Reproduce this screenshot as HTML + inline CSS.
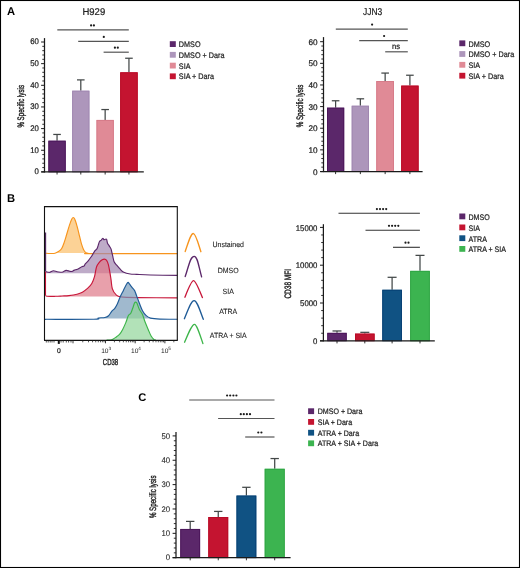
<!DOCTYPE html>
<html><head><meta charset="utf-8"><style>
html,body{margin:0;padding:0;background:#fff;}
svg{display:block;font-family:"Liberation Sans", sans-serif;filter:grayscale(0);text-rendering:geometricPrecision;}
</style></head><body>
<svg width="520" height="568" viewBox="0 0 520 568">
<rect x="0" y="0" width="520" height="568" fill="#fff"/>
<text transform="translate(7.00,14.80)" font-size="11.2" text-anchor="start" font-weight="bold" fill="#000">A</text>
<text transform="translate(7.00,202.30)" font-size="11.2" text-anchor="start" font-weight="bold" fill="#000">B</text>
<text transform="translate(138.20,400.50)" font-size="11.2" text-anchor="start" font-weight="bold" fill="#000">C</text>
<line x1="57.05" y1="140.72" x2="57.05" y2="134.45" stroke="#434848" stroke-width="1.25" />
<line x1="53.25" y1="134.45" x2="60.85" y2="134.45" stroke="#434848" stroke-width="1.25" />
<rect x="48.40" y="140.72" width="17.30" height="31.18" fill="#5b276a"/>
<rect x="48.85" y="141.17" width="16.40" height="30.73" fill="none" stroke="#4a1559" stroke-width="0.9"/>
<line x1="57.05" y1="171.90" x2="57.05" y2="174.50" stroke="#1a1a1a" stroke-width="0.9" />
<line x1="80.80" y1="90.71" x2="80.80" y2="79.89" stroke="#434848" stroke-width="1.25" />
<line x1="77.00" y1="79.89" x2="84.60" y2="79.89" stroke="#434848" stroke-width="1.25" />
<rect x="72.20" y="90.71" width="17.20" height="81.19" fill="#ad96bb"/>
<rect x="72.65" y="91.16" width="16.30" height="80.74" fill="none" stroke="#9f86b0" stroke-width="0.9"/>
<line x1="80.80" y1="171.90" x2="80.80" y2="174.50" stroke="#1a1a1a" stroke-width="0.9" />
<line x1="105.15" y1="119.94" x2="105.15" y2="109.55" stroke="#434848" stroke-width="1.25" />
<line x1="101.35" y1="109.55" x2="108.95" y2="109.55" stroke="#434848" stroke-width="1.25" />
<rect x="96.50" y="119.94" width="17.30" height="51.96" fill="#e08a96"/>
<rect x="96.95" y="120.39" width="16.40" height="51.51" fill="none" stroke="#d67a88" stroke-width="0.9"/>
<line x1="105.15" y1="171.90" x2="105.15" y2="174.50" stroke="#1a1a1a" stroke-width="0.9" />
<line x1="128.95" y1="72.31" x2="128.95" y2="58.24" stroke="#434848" stroke-width="1.25" />
<line x1="125.15" y1="58.24" x2="132.75" y2="58.24" stroke="#434848" stroke-width="1.25" />
<rect x="120.20" y="72.31" width="17.50" height="99.59" fill="#c41430"/>
<rect x="120.65" y="72.76" width="16.60" height="99.14" fill="none" stroke="#b80a26" stroke-width="0.9"/>
<line x1="128.95" y1="171.90" x2="128.95" y2="174.50" stroke="#1a1a1a" stroke-width="0.9" />
<line x1="44.50" y1="38.10" x2="44.50" y2="172.50" stroke="#1a1a1a" stroke-width="1.25" />
<line x1="41.30" y1="171.90" x2="143.80" y2="171.90" stroke="#1a1a1a" stroke-width="1.25" />
<line x1="41.10" y1="171.90" x2="44.50" y2="171.90" stroke="#1a1a1a" stroke-width="1.0" />
<text transform="translate(38.80,174.20) scale(0.95,1)" font-size="8.2" text-anchor="end" font-weight="normal" fill="#222" stroke="#222" stroke-width="0.22">0</text>
<line x1="41.10" y1="150.25" x2="44.50" y2="150.25" stroke="#1a1a1a" stroke-width="1.0" />
<text transform="translate(38.80,152.55) scale(0.95,1)" font-size="8.2" text-anchor="end" font-weight="normal" fill="#222" stroke="#222" stroke-width="0.22">10</text>
<line x1="41.10" y1="128.60" x2="44.50" y2="128.60" stroke="#1a1a1a" stroke-width="1.0" />
<text transform="translate(38.80,130.90) scale(0.95,1)" font-size="8.2" text-anchor="end" font-weight="normal" fill="#222" stroke="#222" stroke-width="0.22">20</text>
<line x1="41.10" y1="106.95" x2="44.50" y2="106.95" stroke="#1a1a1a" stroke-width="1.0" />
<text transform="translate(38.80,109.25) scale(0.95,1)" font-size="8.2" text-anchor="end" font-weight="normal" fill="#222" stroke="#222" stroke-width="0.22">30</text>
<line x1="41.10" y1="85.30" x2="44.50" y2="85.30" stroke="#1a1a1a" stroke-width="1.0" />
<text transform="translate(38.80,87.60) scale(0.95,1)" font-size="8.2" text-anchor="end" font-weight="normal" fill="#222" stroke="#222" stroke-width="0.22">40</text>
<line x1="41.10" y1="63.65" x2="44.50" y2="63.65" stroke="#1a1a1a" stroke-width="1.0" />
<text transform="translate(38.80,65.95) scale(0.95,1)" font-size="8.2" text-anchor="end" font-weight="normal" fill="#222" stroke="#222" stroke-width="0.22">50</text>
<line x1="41.10" y1="42.00" x2="44.50" y2="42.00" stroke="#1a1a1a" stroke-width="1.0" />
<text transform="translate(38.80,44.30) scale(0.95,1)" font-size="8.2" text-anchor="end" font-weight="normal" fill="#222" stroke="#222" stroke-width="0.22">60</text>
<line x1="42.30" y1="167.57" x2="44.50" y2="167.57" stroke="#1a1a1a" stroke-width="0.9" />
<line x1="42.30" y1="163.24" x2="44.50" y2="163.24" stroke="#1a1a1a" stroke-width="0.9" />
<line x1="42.30" y1="158.91" x2="44.50" y2="158.91" stroke="#1a1a1a" stroke-width="0.9" />
<line x1="42.30" y1="154.58" x2="44.50" y2="154.58" stroke="#1a1a1a" stroke-width="0.9" />
<line x1="42.30" y1="145.92" x2="44.50" y2="145.92" stroke="#1a1a1a" stroke-width="0.9" />
<line x1="42.30" y1="141.59" x2="44.50" y2="141.59" stroke="#1a1a1a" stroke-width="0.9" />
<line x1="42.30" y1="137.26" x2="44.50" y2="137.26" stroke="#1a1a1a" stroke-width="0.9" />
<line x1="42.30" y1="132.93" x2="44.50" y2="132.93" stroke="#1a1a1a" stroke-width="0.9" />
<line x1="42.30" y1="124.27" x2="44.50" y2="124.27" stroke="#1a1a1a" stroke-width="0.9" />
<line x1="42.30" y1="119.94" x2="44.50" y2="119.94" stroke="#1a1a1a" stroke-width="0.9" />
<line x1="42.30" y1="115.61" x2="44.50" y2="115.61" stroke="#1a1a1a" stroke-width="0.9" />
<line x1="42.30" y1="111.28" x2="44.50" y2="111.28" stroke="#1a1a1a" stroke-width="0.9" />
<line x1="42.30" y1="102.62" x2="44.50" y2="102.62" stroke="#1a1a1a" stroke-width="0.9" />
<line x1="42.30" y1="98.29" x2="44.50" y2="98.29" stroke="#1a1a1a" stroke-width="0.9" />
<line x1="42.30" y1="93.96" x2="44.50" y2="93.96" stroke="#1a1a1a" stroke-width="0.9" />
<line x1="42.30" y1="89.63" x2="44.50" y2="89.63" stroke="#1a1a1a" stroke-width="0.9" />
<line x1="42.30" y1="80.97" x2="44.50" y2="80.97" stroke="#1a1a1a" stroke-width="0.9" />
<line x1="42.30" y1="76.64" x2="44.50" y2="76.64" stroke="#1a1a1a" stroke-width="0.9" />
<line x1="42.30" y1="72.31" x2="44.50" y2="72.31" stroke="#1a1a1a" stroke-width="0.9" />
<line x1="42.30" y1="67.98" x2="44.50" y2="67.98" stroke="#1a1a1a" stroke-width="0.9" />
<line x1="42.30" y1="59.32" x2="44.50" y2="59.32" stroke="#1a1a1a" stroke-width="0.9" />
<line x1="42.30" y1="54.99" x2="44.50" y2="54.99" stroke="#1a1a1a" stroke-width="0.9" />
<line x1="42.30" y1="50.66" x2="44.50" y2="50.66" stroke="#1a1a1a" stroke-width="0.9" />
<line x1="42.30" y1="46.33" x2="44.50" y2="46.33" stroke="#1a1a1a" stroke-width="0.9" />
<line x1="57.30" y1="29.80" x2="128.80" y2="29.80" stroke="#555" stroke-width="1.2" />
<circle cx="91.10" cy="25.40" r="1.1" fill="#1a1a1a"/>
<circle cx="93.90" cy="25.40" r="1.1" fill="#1a1a1a"/>
<line x1="78.20" y1="41.30" x2="128.80" y2="41.30" stroke="#555" stroke-width="1.2" />
<circle cx="103.80" cy="36.90" r="1.1" fill="#1a1a1a"/>
<line x1="103.60" y1="52.20" x2="128.80" y2="52.20" stroke="#555" stroke-width="1.2" />
<circle cx="114.90" cy="47.70" r="1.1" fill="#1a1a1a"/>
<circle cx="117.80" cy="47.70" r="1.1" fill="#1a1a1a"/>
<text transform="translate(93.80,15.00) scale(0.97,1)" font-size="9.8" text-anchor="middle" font-weight="normal" fill="#222" stroke="#222" stroke-width="0.22">H929</text>
<text transform="translate(23.90,106.30) rotate(-90) scale(0.66,1)" font-size="9.4" text-anchor="middle" font-weight="normal" fill="#222" stroke="#222" stroke-width="0.4">% Specific lysis</text>
<rect x="169.80" y="41.20" width="6.00" height="5.80" fill="#5b276a"/>
<text transform="translate(178.80,47.05) scale(0.895,1)" font-size="8.1" text-anchor="start" font-weight="normal" fill="#222" stroke="#222" stroke-width="0.22">DMSO</text>
<rect x="169.80" y="51.90" width="6.00" height="5.80" fill="#ad96bb"/>
<text transform="translate(178.80,57.75) scale(0.895,1)" font-size="8.1" text-anchor="start" font-weight="normal" fill="#222" stroke="#222" stroke-width="0.22">DMSO + Dara</text>
<rect x="169.80" y="62.70" width="6.00" height="5.80" fill="#e08a96"/>
<text transform="translate(178.80,68.55) scale(0.895,1)" font-size="8.1" text-anchor="start" font-weight="normal" fill="#222" stroke="#222" stroke-width="0.22">SIA</text>
<rect x="169.80" y="73.40" width="6.00" height="5.80" fill="#c41430"/>
<text transform="translate(178.80,79.25) scale(0.895,1)" font-size="8.1" text-anchor="start" font-weight="normal" fill="#222" stroke="#222" stroke-width="0.22">SIA + Dara</text>
<line x1="335.60" y1="107.68" x2="335.60" y2="100.76" stroke="#434848" stroke-width="1.25" />
<line x1="331.80" y1="100.76" x2="339.40" y2="100.76" stroke="#434848" stroke-width="1.25" />
<rect x="327.00" y="107.68" width="17.20" height="63.82" fill="#5b276a"/>
<rect x="327.45" y="108.13" width="16.30" height="63.37" fill="none" stroke="#4a1559" stroke-width="0.9"/>
<line x1="335.60" y1="171.50" x2="335.60" y2="174.10" stroke="#1a1a1a" stroke-width="0.9" />
<line x1="360.35" y1="105.73" x2="360.35" y2="98.81" stroke="#434848" stroke-width="1.25" />
<line x1="356.55" y1="98.81" x2="364.15" y2="98.81" stroke="#434848" stroke-width="1.25" />
<rect x="351.70" y="105.73" width="17.30" height="65.77" fill="#ad96bb"/>
<rect x="352.15" y="106.18" width="16.40" height="65.32" fill="none" stroke="#9f86b0" stroke-width="0.9"/>
<line x1="360.35" y1="171.50" x2="360.35" y2="174.10" stroke="#1a1a1a" stroke-width="0.9" />
<line x1="385.15" y1="81.07" x2="385.15" y2="73.07" stroke="#434848" stroke-width="1.25" />
<line x1="381.35" y1="73.07" x2="388.95" y2="73.07" stroke="#434848" stroke-width="1.25" />
<rect x="376.30" y="81.07" width="17.70" height="90.43" fill="#e08a96"/>
<rect x="376.75" y="81.52" width="16.80" height="89.98" fill="none" stroke="#d67a88" stroke-width="0.9"/>
<line x1="385.15" y1="171.50" x2="385.15" y2="174.10" stroke="#1a1a1a" stroke-width="0.9" />
<line x1="409.90" y1="85.62" x2="409.90" y2="75.23" stroke="#434848" stroke-width="1.25" />
<line x1="406.10" y1="75.23" x2="413.70" y2="75.23" stroke="#434848" stroke-width="1.25" />
<rect x="401.20" y="85.62" width="17.40" height="85.88" fill="#c41430"/>
<rect x="401.65" y="86.07" width="16.50" height="85.43" fill="none" stroke="#b80a26" stroke-width="0.9"/>
<line x1="409.90" y1="171.50" x2="409.90" y2="174.10" stroke="#1a1a1a" stroke-width="0.9" />
<line x1="323.50" y1="37.10" x2="323.50" y2="172.10" stroke="#1a1a1a" stroke-width="1.25" />
<line x1="320.30" y1="171.50" x2="422.60" y2="171.50" stroke="#1a1a1a" stroke-width="1.25" />
<line x1="320.10" y1="171.50" x2="323.50" y2="171.50" stroke="#1a1a1a" stroke-width="1.0" />
<text transform="translate(317.60,174.50)" font-size="8.2" text-anchor="end" font-weight="normal" fill="#222" stroke="#222" stroke-width="0.22">0</text>
<line x1="320.10" y1="149.87" x2="323.50" y2="149.87" stroke="#1a1a1a" stroke-width="1.0" />
<text transform="translate(317.60,152.87)" font-size="8.2" text-anchor="end" font-weight="normal" fill="#222" stroke="#222" stroke-width="0.22">10</text>
<line x1="320.10" y1="128.23" x2="323.50" y2="128.23" stroke="#1a1a1a" stroke-width="1.0" />
<text transform="translate(317.60,131.23)" font-size="8.2" text-anchor="end" font-weight="normal" fill="#222" stroke="#222" stroke-width="0.22">20</text>
<line x1="320.10" y1="106.60" x2="323.50" y2="106.60" stroke="#1a1a1a" stroke-width="1.0" />
<text transform="translate(317.60,109.60)" font-size="8.2" text-anchor="end" font-weight="normal" fill="#222" stroke="#222" stroke-width="0.22">30</text>
<line x1="320.10" y1="84.97" x2="323.50" y2="84.97" stroke="#1a1a1a" stroke-width="1.0" />
<text transform="translate(317.60,87.97)" font-size="8.2" text-anchor="end" font-weight="normal" fill="#222" stroke="#222" stroke-width="0.22">40</text>
<line x1="320.10" y1="63.33" x2="323.50" y2="63.33" stroke="#1a1a1a" stroke-width="1.0" />
<text transform="translate(317.60,66.33)" font-size="8.2" text-anchor="end" font-weight="normal" fill="#222" stroke="#222" stroke-width="0.22">50</text>
<line x1="320.10" y1="41.70" x2="323.50" y2="41.70" stroke="#1a1a1a" stroke-width="1.0" />
<text transform="translate(317.60,44.70)" font-size="8.2" text-anchor="end" font-weight="normal" fill="#222" stroke="#222" stroke-width="0.22">60</text>
<line x1="321.30" y1="167.17" x2="323.50" y2="167.17" stroke="#1a1a1a" stroke-width="0.9" />
<line x1="321.30" y1="162.85" x2="323.50" y2="162.85" stroke="#1a1a1a" stroke-width="0.9" />
<line x1="321.30" y1="158.52" x2="323.50" y2="158.52" stroke="#1a1a1a" stroke-width="0.9" />
<line x1="321.30" y1="154.19" x2="323.50" y2="154.19" stroke="#1a1a1a" stroke-width="0.9" />
<line x1="321.30" y1="145.54" x2="323.50" y2="145.54" stroke="#1a1a1a" stroke-width="0.9" />
<line x1="321.30" y1="141.21" x2="323.50" y2="141.21" stroke="#1a1a1a" stroke-width="0.9" />
<line x1="321.30" y1="136.89" x2="323.50" y2="136.89" stroke="#1a1a1a" stroke-width="0.9" />
<line x1="321.30" y1="132.56" x2="323.50" y2="132.56" stroke="#1a1a1a" stroke-width="0.9" />
<line x1="321.30" y1="123.91" x2="323.50" y2="123.91" stroke="#1a1a1a" stroke-width="0.9" />
<line x1="321.30" y1="119.58" x2="323.50" y2="119.58" stroke="#1a1a1a" stroke-width="0.9" />
<line x1="321.30" y1="115.25" x2="323.50" y2="115.25" stroke="#1a1a1a" stroke-width="0.9" />
<line x1="321.30" y1="110.93" x2="323.50" y2="110.93" stroke="#1a1a1a" stroke-width="0.9" />
<line x1="321.30" y1="102.27" x2="323.50" y2="102.27" stroke="#1a1a1a" stroke-width="0.9" />
<line x1="321.30" y1="97.95" x2="323.50" y2="97.95" stroke="#1a1a1a" stroke-width="0.9" />
<line x1="321.30" y1="93.62" x2="323.50" y2="93.62" stroke="#1a1a1a" stroke-width="0.9" />
<line x1="321.30" y1="89.29" x2="323.50" y2="89.29" stroke="#1a1a1a" stroke-width="0.9" />
<line x1="321.30" y1="80.64" x2="323.50" y2="80.64" stroke="#1a1a1a" stroke-width="0.9" />
<line x1="321.30" y1="76.31" x2="323.50" y2="76.31" stroke="#1a1a1a" stroke-width="0.9" />
<line x1="321.30" y1="71.99" x2="323.50" y2="71.99" stroke="#1a1a1a" stroke-width="0.9" />
<line x1="321.30" y1="67.66" x2="323.50" y2="67.66" stroke="#1a1a1a" stroke-width="0.9" />
<line x1="321.30" y1="59.01" x2="323.50" y2="59.01" stroke="#1a1a1a" stroke-width="0.9" />
<line x1="321.30" y1="54.68" x2="323.50" y2="54.68" stroke="#1a1a1a" stroke-width="0.9" />
<line x1="321.30" y1="50.35" x2="323.50" y2="50.35" stroke="#1a1a1a" stroke-width="0.9" />
<line x1="321.30" y1="46.03" x2="323.50" y2="46.03" stroke="#1a1a1a" stroke-width="0.9" />
<line x1="335.80" y1="29.20" x2="407.80" y2="29.20" stroke="#555" stroke-width="1.2" />
<circle cx="372.10" cy="24.60" r="1.1" fill="#1a1a1a"/>
<line x1="359.20" y1="40.60" x2="407.80" y2="40.60" stroke="#555" stroke-width="1.2" />
<circle cx="384.10" cy="36.00" r="1.1" fill="#1a1a1a"/>
<line x1="385.20" y1="51.80" x2="407.80" y2="51.80" stroke="#555" stroke-width="1.2" />
<text transform="translate(396.10,49.40) scale(0.95,1)" font-size="8.0" text-anchor="middle" font-weight="normal" fill="#222" stroke="#222" stroke-width="0.22">ns</text>
<text transform="translate(372.60,15.00) scale(0.86,1)" font-size="9.8" text-anchor="middle" font-weight="normal" fill="#222" stroke="#222" stroke-width="0.22">JJN3</text>
<text transform="translate(302.90,106.00) rotate(-90) scale(0.66,1)" font-size="9.4" text-anchor="middle" font-weight="normal" fill="#222" stroke="#222" stroke-width="0.4">% Specific lysis</text>
<rect x="459.30" y="40.40" width="6.00" height="5.80" fill="#5b276a"/>
<text transform="translate(468.50,46.75) scale(0.895,1)" font-size="8.1" text-anchor="start" font-weight="normal" fill="#222" stroke="#222" stroke-width="0.22">DMSO</text>
<rect x="459.30" y="51.10" width="6.00" height="5.80" fill="#ad96bb"/>
<text transform="translate(468.50,57.45) scale(0.895,1)" font-size="8.1" text-anchor="start" font-weight="normal" fill="#222" stroke="#222" stroke-width="0.22">DMSO + Dara</text>
<rect x="459.30" y="61.90" width="6.00" height="5.80" fill="#e08a96"/>
<text transform="translate(468.50,68.25) scale(0.895,1)" font-size="8.1" text-anchor="start" font-weight="normal" fill="#222" stroke="#222" stroke-width="0.22">SIA</text>
<rect x="459.30" y="72.80" width="6.00" height="5.80" fill="#c41430"/>
<text transform="translate(468.50,79.15) scale(0.895,1)" font-size="8.1" text-anchor="start" font-weight="normal" fill="#222" stroke="#222" stroke-width="0.22">SIA + Dara</text>
<line x1="337.00" y1="332.86" x2="337.00" y2="330.97" stroke="#434848" stroke-width="1.25" />
<line x1="332.50" y1="330.97" x2="341.50" y2="330.97" stroke="#434848" stroke-width="1.25" />
<rect x="327.30" y="332.86" width="19.40" height="7.94" fill="#5b276a"/>
<rect x="327.75" y="333.31" width="18.50" height="7.49" fill="none" stroke="#4a1559" stroke-width="0.9"/>
<line x1="337.00" y1="340.80" x2="337.00" y2="343.40" stroke="#1a1a1a" stroke-width="0.9" />
<line x1="364.80" y1="333.62" x2="364.80" y2="332.33" stroke="#434848" stroke-width="1.25" />
<line x1="360.30" y1="332.33" x2="369.30" y2="332.33" stroke="#434848" stroke-width="1.25" />
<rect x="355.00" y="333.62" width="19.60" height="7.18" fill="#c41430"/>
<rect x="355.45" y="334.07" width="18.70" height="6.73" fill="none" stroke="#b80a26" stroke-width="0.9"/>
<line x1="364.80" y1="340.80" x2="364.80" y2="343.40" stroke="#1a1a1a" stroke-width="0.9" />
<line x1="392.10" y1="289.77" x2="392.10" y2="277.30" stroke="#434848" stroke-width="1.25" />
<line x1="387.60" y1="277.30" x2="396.60" y2="277.30" stroke="#434848" stroke-width="1.25" />
<rect x="382.30" y="289.77" width="19.60" height="51.03" fill="#105283"/>
<rect x="382.75" y="290.22" width="18.70" height="50.58" fill="none" stroke="#053f73" stroke-width="0.9"/>
<line x1="392.10" y1="340.80" x2="392.10" y2="343.40" stroke="#1a1a1a" stroke-width="0.9" />
<line x1="420.00" y1="270.87" x2="420.00" y2="255.37" stroke="#434848" stroke-width="1.25" />
<line x1="415.50" y1="255.37" x2="424.50" y2="255.37" stroke="#434848" stroke-width="1.25" />
<rect x="410.20" y="270.87" width="19.60" height="69.93" fill="#3cb450"/>
<rect x="410.65" y="271.32" width="18.70" height="69.48" fill="none" stroke="#2ea442" stroke-width="0.9"/>
<line x1="420.00" y1="340.80" x2="420.00" y2="343.40" stroke="#1a1a1a" stroke-width="0.9" />
<line x1="323.40" y1="224.20" x2="323.40" y2="341.40" stroke="#1a1a1a" stroke-width="1.25" />
<line x1="320.00" y1="340.80" x2="434.80" y2="340.80" stroke="#1a1a1a" stroke-width="1.25" />
<line x1="320.00" y1="340.80" x2="323.40" y2="340.80" stroke="#1a1a1a" stroke-width="1.0" />
<text transform="translate(317.40,343.90) scale(0.95,1)" font-size="8.2" text-anchor="end" font-weight="normal" fill="#222" stroke="#222" stroke-width="0.22">0</text>
<line x1="320.00" y1="303.00" x2="323.40" y2="303.00" stroke="#1a1a1a" stroke-width="1.0" />
<text transform="translate(317.40,306.10) scale(0.95,1)" font-size="8.2" text-anchor="end" font-weight="normal" fill="#222" stroke="#222" stroke-width="0.22">5000</text>
<line x1="320.00" y1="265.20" x2="323.40" y2="265.20" stroke="#1a1a1a" stroke-width="1.0" />
<text transform="translate(317.40,268.30) scale(0.95,1)" font-size="8.2" text-anchor="end" font-weight="normal" fill="#222" stroke="#222" stroke-width="0.22">10000</text>
<line x1="320.00" y1="227.40" x2="323.40" y2="227.40" stroke="#1a1a1a" stroke-width="1.0" />
<text transform="translate(317.40,230.50) scale(0.95,1)" font-size="8.2" text-anchor="end" font-weight="normal" fill="#222" stroke="#222" stroke-width="0.22">15000</text>
<line x1="321.20" y1="333.24" x2="323.40" y2="333.24" stroke="#1a1a1a" stroke-width="0.9" />
<line x1="321.20" y1="325.68" x2="323.40" y2="325.68" stroke="#1a1a1a" stroke-width="0.9" />
<line x1="321.20" y1="318.12" x2="323.40" y2="318.12" stroke="#1a1a1a" stroke-width="0.9" />
<line x1="321.20" y1="310.56" x2="323.40" y2="310.56" stroke="#1a1a1a" stroke-width="0.9" />
<line x1="321.20" y1="295.44" x2="323.40" y2="295.44" stroke="#1a1a1a" stroke-width="0.9" />
<line x1="321.20" y1="287.88" x2="323.40" y2="287.88" stroke="#1a1a1a" stroke-width="0.9" />
<line x1="321.20" y1="280.32" x2="323.40" y2="280.32" stroke="#1a1a1a" stroke-width="0.9" />
<line x1="321.20" y1="272.76" x2="323.40" y2="272.76" stroke="#1a1a1a" stroke-width="0.9" />
<line x1="321.20" y1="257.64" x2="323.40" y2="257.64" stroke="#1a1a1a" stroke-width="0.9" />
<line x1="321.20" y1="250.08" x2="323.40" y2="250.08" stroke="#1a1a1a" stroke-width="0.9" />
<line x1="321.20" y1="242.52" x2="323.40" y2="242.52" stroke="#1a1a1a" stroke-width="0.9" />
<line x1="321.20" y1="234.96" x2="323.40" y2="234.96" stroke="#1a1a1a" stroke-width="0.9" />
<line x1="338.50" y1="213.30" x2="419.90" y2="213.30" stroke="#333" stroke-width="1.1" />
<circle cx="376.90" cy="209.10" r="1.1" fill="#1a1a1a"/>
<circle cx="380.00" cy="209.10" r="1.1" fill="#1a1a1a"/>
<circle cx="383.10" cy="209.10" r="1.1" fill="#1a1a1a"/>
<circle cx="386.20" cy="209.10" r="1.1" fill="#1a1a1a"/>
<line x1="365.50" y1="230.20" x2="419.90" y2="230.20" stroke="#333" stroke-width="1.1" />
<circle cx="389.00" cy="225.80" r="1.1" fill="#1a1a1a"/>
<circle cx="392.10" cy="225.80" r="1.1" fill="#1a1a1a"/>
<circle cx="395.20" cy="225.80" r="1.1" fill="#1a1a1a"/>
<circle cx="398.30" cy="225.80" r="1.1" fill="#1a1a1a"/>
<line x1="393.00" y1="247.30" x2="419.90" y2="247.30" stroke="#333" stroke-width="1.1" />
<circle cx="405.50" cy="242.70" r="1.1" fill="#1a1a1a"/>
<circle cx="408.50" cy="242.70" r="1.1" fill="#1a1a1a"/>
<text transform="translate(290.50,283.80) rotate(-90) scale(0.7,1)" font-size="9.3" text-anchor="middle" font-weight="normal" fill="#222" stroke="#222" stroke-width="0.4">CD38 MFI</text>
<rect x="459.30" y="213.50" width="6.00" height="5.80" fill="#5b276a"/>
<text transform="translate(468.50,219.95) scale(0.875,1)" font-size="8.1" text-anchor="start" font-weight="normal" fill="#222" stroke="#222" stroke-width="0.22">DMSO</text>
<rect x="459.30" y="224.50" width="6.00" height="5.80" fill="#c41430"/>
<text transform="translate(468.50,230.95) scale(0.875,1)" font-size="8.1" text-anchor="start" font-weight="normal" fill="#222" stroke="#222" stroke-width="0.22">SIA</text>
<rect x="459.30" y="235.30" width="6.00" height="5.80" fill="#105283"/>
<text transform="translate(468.50,241.75) scale(0.875,1)" font-size="8.1" text-anchor="start" font-weight="normal" fill="#222" stroke="#222" stroke-width="0.22">ATRA</text>
<rect x="459.30" y="246.00" width="6.00" height="5.80" fill="#3cb450"/>
<text transform="translate(468.50,252.45) scale(0.875,1)" font-size="8.1" text-anchor="start" font-weight="normal" fill="#222" stroke="#222" stroke-width="0.22">ATRA + SIA</text>
<line x1="190.20" y1="528.96" x2="190.20" y2="521.40" stroke="#434848" stroke-width="1.25" />
<line x1="186.00" y1="521.40" x2="194.40" y2="521.40" stroke="#434848" stroke-width="1.25" />
<rect x="180.30" y="528.96" width="19.80" height="28.74" fill="#5b276a"/>
<rect x="180.75" y="529.41" width="18.90" height="28.29" fill="none" stroke="#4a1559" stroke-width="0.9"/>
<line x1="190.20" y1="557.70" x2="190.20" y2="560.30" stroke="#1a1a1a" stroke-width="0.9" />
<line x1="218.25" y1="517.02" x2="218.25" y2="511.42" stroke="#434848" stroke-width="1.25" />
<line x1="214.05" y1="511.42" x2="222.45" y2="511.42" stroke="#434848" stroke-width="1.25" />
<rect x="208.30" y="517.02" width="19.90" height="40.68" fill="#c41430"/>
<rect x="208.75" y="517.47" width="19.00" height="40.23" fill="none" stroke="#b80a26" stroke-width="0.9"/>
<line x1="218.25" y1="557.70" x2="218.25" y2="560.30" stroke="#1a1a1a" stroke-width="0.9" />
<line x1="246.40" y1="495.58" x2="246.40" y2="487.30" stroke="#434848" stroke-width="1.25" />
<line x1="242.20" y1="487.30" x2="250.60" y2="487.30" stroke="#434848" stroke-width="1.25" />
<rect x="236.50" y="495.58" width="19.80" height="62.12" fill="#105283"/>
<rect x="236.95" y="496.03" width="18.90" height="61.67" fill="none" stroke="#053f73" stroke-width="0.9"/>
<line x1="246.40" y1="557.70" x2="246.40" y2="560.30" stroke="#1a1a1a" stroke-width="0.9" />
<line x1="274.70" y1="468.79" x2="274.70" y2="458.55" stroke="#434848" stroke-width="1.25" />
<line x1="270.50" y1="458.55" x2="278.90" y2="458.55" stroke="#434848" stroke-width="1.25" />
<rect x="264.70" y="468.79" width="20.00" height="88.91" fill="#3cb450"/>
<rect x="265.15" y="469.24" width="19.10" height="88.46" fill="none" stroke="#2ea442" stroke-width="0.9"/>
<line x1="274.70" y1="557.70" x2="274.70" y2="560.30" stroke="#1a1a1a" stroke-width="0.9" />
<line x1="176.00" y1="432.00" x2="176.00" y2="558.30" stroke="#1a1a1a" stroke-width="1.25" />
<line x1="172.60" y1="557.70" x2="290.60" y2="557.70" stroke="#1a1a1a" stroke-width="1.25" />
<line x1="172.60" y1="557.70" x2="176.00" y2="557.70" stroke="#1a1a1a" stroke-width="1.0" />
<text transform="translate(170.20,560.30) scale(0.95,1)" font-size="8.2" text-anchor="end" font-weight="normal" fill="#2a2a2a" stroke="#2a2a2a" stroke-width="0.1">0</text>
<line x1="172.60" y1="533.34" x2="176.00" y2="533.34" stroke="#1a1a1a" stroke-width="1.0" />
<text transform="translate(170.20,535.94) scale(0.95,1)" font-size="8.2" text-anchor="end" font-weight="normal" fill="#2a2a2a" stroke="#2a2a2a" stroke-width="0.1">10</text>
<line x1="172.60" y1="508.98" x2="176.00" y2="508.98" stroke="#1a1a1a" stroke-width="1.0" />
<text transform="translate(170.20,511.58) scale(0.95,1)" font-size="8.2" text-anchor="end" font-weight="normal" fill="#2a2a2a" stroke="#2a2a2a" stroke-width="0.1">20</text>
<line x1="172.60" y1="484.62" x2="176.00" y2="484.62" stroke="#1a1a1a" stroke-width="1.0" />
<text transform="translate(170.20,487.22) scale(0.95,1)" font-size="8.2" text-anchor="end" font-weight="normal" fill="#2a2a2a" stroke="#2a2a2a" stroke-width="0.1">30</text>
<line x1="172.60" y1="460.26" x2="176.00" y2="460.26" stroke="#1a1a1a" stroke-width="1.0" />
<text transform="translate(170.20,462.86) scale(0.95,1)" font-size="8.2" text-anchor="end" font-weight="normal" fill="#2a2a2a" stroke="#2a2a2a" stroke-width="0.1">40</text>
<line x1="172.60" y1="435.90" x2="176.00" y2="435.90" stroke="#1a1a1a" stroke-width="1.0" />
<text transform="translate(170.20,438.50) scale(0.95,1)" font-size="8.2" text-anchor="end" font-weight="normal" fill="#2a2a2a" stroke="#2a2a2a" stroke-width="0.1">50</text>
<line x1="173.80" y1="552.83" x2="176.00" y2="552.83" stroke="#1a1a1a" stroke-width="0.9" />
<line x1="173.80" y1="547.96" x2="176.00" y2="547.96" stroke="#1a1a1a" stroke-width="0.9" />
<line x1="173.80" y1="543.08" x2="176.00" y2="543.08" stroke="#1a1a1a" stroke-width="0.9" />
<line x1="173.80" y1="538.21" x2="176.00" y2="538.21" stroke="#1a1a1a" stroke-width="0.9" />
<line x1="173.80" y1="528.47" x2="176.00" y2="528.47" stroke="#1a1a1a" stroke-width="0.9" />
<line x1="173.80" y1="523.60" x2="176.00" y2="523.60" stroke="#1a1a1a" stroke-width="0.9" />
<line x1="173.80" y1="518.72" x2="176.00" y2="518.72" stroke="#1a1a1a" stroke-width="0.9" />
<line x1="173.80" y1="513.85" x2="176.00" y2="513.85" stroke="#1a1a1a" stroke-width="0.9" />
<line x1="173.80" y1="504.11" x2="176.00" y2="504.11" stroke="#1a1a1a" stroke-width="0.9" />
<line x1="173.80" y1="499.24" x2="176.00" y2="499.24" stroke="#1a1a1a" stroke-width="0.9" />
<line x1="173.80" y1="494.36" x2="176.00" y2="494.36" stroke="#1a1a1a" stroke-width="0.9" />
<line x1="173.80" y1="489.49" x2="176.00" y2="489.49" stroke="#1a1a1a" stroke-width="0.9" />
<line x1="173.80" y1="479.75" x2="176.00" y2="479.75" stroke="#1a1a1a" stroke-width="0.9" />
<line x1="173.80" y1="474.88" x2="176.00" y2="474.88" stroke="#1a1a1a" stroke-width="0.9" />
<line x1="173.80" y1="470.00" x2="176.00" y2="470.00" stroke="#1a1a1a" stroke-width="0.9" />
<line x1="173.80" y1="465.13" x2="176.00" y2="465.13" stroke="#1a1a1a" stroke-width="0.9" />
<line x1="173.80" y1="455.39" x2="176.00" y2="455.39" stroke="#1a1a1a" stroke-width="0.9" />
<line x1="173.80" y1="450.52" x2="176.00" y2="450.52" stroke="#1a1a1a" stroke-width="0.9" />
<line x1="173.80" y1="445.64" x2="176.00" y2="445.64" stroke="#1a1a1a" stroke-width="0.9" />
<line x1="173.80" y1="440.77" x2="176.00" y2="440.77" stroke="#1a1a1a" stroke-width="0.9" />
<line x1="189.20" y1="400.00" x2="274.50" y2="400.00" stroke="#555" stroke-width="1.2" />
<circle cx="227.10" cy="395.50" r="1.1" fill="#1a1a1a"/>
<circle cx="230.20" cy="395.50" r="1.1" fill="#1a1a1a"/>
<circle cx="233.40" cy="395.50" r="1.1" fill="#1a1a1a"/>
<circle cx="236.40" cy="395.50" r="1.1" fill="#1a1a1a"/>
<line x1="218.10" y1="418.50" x2="274.50" y2="418.50" stroke="#555" stroke-width="1.2" />
<circle cx="240.80" cy="414.20" r="1.1" fill="#1a1a1a"/>
<circle cx="243.80" cy="414.20" r="1.1" fill="#1a1a1a"/>
<circle cx="246.90" cy="414.20" r="1.1" fill="#1a1a1a"/>
<circle cx="250.00" cy="414.20" r="1.1" fill="#1a1a1a"/>
<line x1="245.20" y1="437.00" x2="274.50" y2="437.00" stroke="#555" stroke-width="1.2" />
<circle cx="258.30" cy="432.50" r="1.1" fill="#1a1a1a"/>
<circle cx="261.40" cy="432.50" r="1.1" fill="#1a1a1a"/>
<text transform="translate(156.40,496.80) rotate(-90) scale(0.66,1)" font-size="9.4" text-anchor="middle" font-weight="normal" fill="#222" stroke="#222" stroke-width="0.4">% Specific lysis</text>
<rect x="308.10" y="408.30" width="6.00" height="5.80" fill="#5b276a"/>
<text transform="translate(317.70,414.15) scale(0.885,1)" font-size="8.0" text-anchor="start" font-weight="normal" fill="#222" stroke="#222" stroke-width="0.22">DMSO + Dara</text>
<rect x="308.10" y="419.00" width="6.00" height="5.80" fill="#c41430"/>
<text transform="translate(317.70,424.85) scale(0.885,1)" font-size="8.0" text-anchor="start" font-weight="normal" fill="#222" stroke="#222" stroke-width="0.22">SIA + Dara</text>
<rect x="308.10" y="429.80" width="6.00" height="5.80" fill="#105283"/>
<text transform="translate(317.70,435.65) scale(0.885,1)" font-size="8.0" text-anchor="start" font-weight="normal" fill="#222" stroke="#222" stroke-width="0.22">ATRA + Dara</text>
<rect x="308.10" y="440.40" width="6.00" height="5.80" fill="#3cb450"/>
<text transform="translate(317.70,446.25) scale(0.885,1)" font-size="8.0" text-anchor="start" font-weight="normal" fill="#222" stroke="#222" stroke-width="0.22">ATRA + SIA + Dara</text>
<defs><clipPath id="cb0"><rect x="44.5" y="0" width="132.8" height="253.0"/></clipPath><clipPath id="cb1"><rect x="44.5" y="0" width="132.8" height="273.3"/></clipPath><clipPath id="cb2"><rect x="44.5" y="0" width="132.8" height="296.6"/></clipPath><clipPath id="cb3"><rect x="44.5" y="0" width="132.8" height="318.6"/></clipPath><clipPath id="cb4"><rect x="44.5" y="0" width="132.8" height="340.0"/></clipPath></defs>
<path d="M45.50,253.20 C46.25,253.25 48.42,253.48 50.00,253.50 C51.58,253.52 53.53,253.67 55.00,253.30 C56.47,252.93 57.68,252.10 58.80,251.30 C59.92,250.50 60.82,249.93 61.70,248.50 C62.58,247.07 63.30,244.95 64.10,242.70 C64.90,240.45 65.62,237.88 66.50,235.00 C67.38,232.12 68.52,228.05 69.40,225.40 C70.28,222.75 71.15,220.42 71.80,219.10 C72.45,217.78 72.82,217.50 73.30,217.50 C73.78,217.50 74.07,217.63 74.70,219.10 C75.33,220.57 76.30,223.48 77.10,226.30 C77.90,229.12 78.78,233.10 79.50,236.00 C80.22,238.90 80.73,241.47 81.40,243.70 C82.07,245.93 82.80,247.95 83.50,249.40 C84.20,250.85 84.82,251.73 85.60,252.40 C86.38,253.07 87.13,253.20 88.20,253.40 C89.27,253.60 77.15,253.57 92.00,253.60 C106.85,253.63 163.08,253.60 177.30,253.60 L177.30,256.00 L45.50,256.00 Z" fill="rgb(251,191,105)" fill-opacity="0.7" clip-path="url(#cb0)"/>
<path d="M45.50,253.20 C46.25,253.25 48.42,253.48 50.00,253.50 C51.58,253.52 53.53,253.67 55.00,253.30 C56.47,252.93 57.68,252.10 58.80,251.30 C59.92,250.50 60.82,249.93 61.70,248.50 C62.58,247.07 63.30,244.95 64.10,242.70 C64.90,240.45 65.62,237.88 66.50,235.00 C67.38,232.12 68.52,228.05 69.40,225.40 C70.28,222.75 71.15,220.42 71.80,219.10 C72.45,217.78 72.82,217.50 73.30,217.50 C73.78,217.50 74.07,217.63 74.70,219.10 C75.33,220.57 76.30,223.48 77.10,226.30 C77.90,229.12 78.78,233.10 79.50,236.00 C80.22,238.90 80.73,241.47 81.40,243.70 C82.07,245.93 82.80,247.95 83.50,249.40 C84.20,250.85 84.82,251.73 85.60,252.40 C86.38,253.07 87.13,253.20 88.20,253.40 C89.27,253.60 77.15,253.57 92.00,253.60 C106.85,253.63 163.08,253.60 177.30,253.60" fill="none" stroke="#f7941d" stroke-width="1.15" stroke-linejoin="round"/>
<path d="M45.60,271.60 C46.00,271.70 47.25,272.10 48.00,272.20 C48.75,272.30 49.18,272.43 50.10,272.20 C51.02,271.97 52.35,270.87 53.50,270.80 C54.65,270.73 55.83,271.57 57.00,271.80 C58.17,272.03 59.53,272.17 60.50,272.20 C61.47,272.23 61.85,272.30 62.80,272.00 C63.75,271.70 65.05,270.52 66.20,270.40 C67.35,270.28 68.73,271.13 69.70,271.30 C70.67,271.47 71.23,271.60 72.00,271.40 C72.77,271.20 73.53,270.42 74.30,270.10 C75.07,269.78 75.83,269.78 76.60,269.50 C77.37,269.22 78.03,268.87 78.90,268.40 C79.77,267.93 80.93,267.10 81.80,266.70 C82.67,266.30 83.52,266.47 84.10,266.00 C84.68,265.53 84.62,264.77 85.30,263.90 C85.98,263.03 87.15,262.08 88.20,260.80 C89.25,259.52 90.87,257.23 91.60,256.20 C92.33,255.17 92.08,255.45 92.60,254.60 C93.12,253.75 93.98,252.05 94.70,251.10 C95.42,250.15 96.32,249.85 96.90,248.90 C97.48,247.95 97.77,246.63 98.20,245.40 C98.63,244.17 98.98,242.38 99.50,241.50 C100.02,240.62 100.85,240.55 101.30,240.10 C101.75,239.65 101.90,239.08 102.20,238.80 C102.50,238.52 102.82,238.25 103.10,238.40 C103.38,238.55 103.53,239.55 103.90,239.70 C104.27,239.85 104.85,239.37 105.30,239.30 C105.75,239.23 106.23,238.65 106.60,239.30 C106.97,239.95 107.07,242.10 107.50,243.20 C107.93,244.30 108.62,244.95 109.20,245.90 C109.78,246.85 110.55,247.80 111.00,248.90 C111.45,250.00 111.60,251.25 111.90,252.50 C112.20,253.75 112.43,254.87 112.80,256.40 C113.17,257.93 113.45,260.23 114.10,261.70 C114.75,263.17 115.68,263.95 116.70,265.20 C117.72,266.45 119.02,268.02 120.20,269.20 C121.38,270.38 122.13,271.50 123.80,272.30 C125.47,273.10 128.02,273.65 130.20,274.00 C132.38,274.35 133.53,274.23 136.90,274.40 C140.27,274.57 143.67,274.83 150.40,275.00 C157.13,275.17 172.82,275.33 177.30,275.40 L177.30,276.30 L45.60,276.30 Z" fill="rgb(162,136,176)" fill-opacity="0.7" clip-path="url(#cb1)"/>
<path d="M45.60,271.60 C46.00,271.70 47.25,272.10 48.00,272.20 C48.75,272.30 49.18,272.43 50.10,272.20 C51.02,271.97 52.35,270.87 53.50,270.80 C54.65,270.73 55.83,271.57 57.00,271.80 C58.17,272.03 59.53,272.17 60.50,272.20 C61.47,272.23 61.85,272.30 62.80,272.00 C63.75,271.70 65.05,270.52 66.20,270.40 C67.35,270.28 68.73,271.13 69.70,271.30 C70.67,271.47 71.23,271.60 72.00,271.40 C72.77,271.20 73.53,270.42 74.30,270.10 C75.07,269.78 75.83,269.78 76.60,269.50 C77.37,269.22 78.03,268.87 78.90,268.40 C79.77,267.93 80.93,267.10 81.80,266.70 C82.67,266.30 83.52,266.47 84.10,266.00 C84.68,265.53 84.62,264.77 85.30,263.90 C85.98,263.03 87.15,262.08 88.20,260.80 C89.25,259.52 90.87,257.23 91.60,256.20 C92.33,255.17 92.08,255.45 92.60,254.60 C93.12,253.75 93.98,252.05 94.70,251.10 C95.42,250.15 96.32,249.85 96.90,248.90 C97.48,247.95 97.77,246.63 98.20,245.40 C98.63,244.17 98.98,242.38 99.50,241.50 C100.02,240.62 100.85,240.55 101.30,240.10 C101.75,239.65 101.90,239.08 102.20,238.80 C102.50,238.52 102.82,238.25 103.10,238.40 C103.38,238.55 103.53,239.55 103.90,239.70 C104.27,239.85 104.85,239.37 105.30,239.30 C105.75,239.23 106.23,238.65 106.60,239.30 C106.97,239.95 107.07,242.10 107.50,243.20 C107.93,244.30 108.62,244.95 109.20,245.90 C109.78,246.85 110.55,247.80 111.00,248.90 C111.45,250.00 111.60,251.25 111.90,252.50 C112.20,253.75 112.43,254.87 112.80,256.40 C113.17,257.93 113.45,260.23 114.10,261.70 C114.75,263.17 115.68,263.95 116.70,265.20 C117.72,266.45 119.02,268.02 120.20,269.20 C121.38,270.38 122.13,271.50 123.80,272.30 C125.47,273.10 128.02,273.65 130.20,274.00 C132.38,274.35 133.53,274.23 136.90,274.40 C140.27,274.57 143.67,274.83 150.40,275.00 C157.13,275.17 172.82,275.33 177.30,275.40" fill="none" stroke="#5b276a" stroke-width="1.15" stroke-linejoin="round"/>
<path d="M45.50,295.20 C45.82,295.38 45.73,296.12 47.40,296.30 C49.07,296.48 53.07,296.35 55.50,296.30 C57.93,296.25 59.77,296.12 62.00,296.00 C64.23,295.88 66.40,295.90 68.90,295.60 C71.40,295.30 74.75,294.77 77.00,294.20 C79.25,293.63 80.60,293.20 82.40,292.20 C84.20,291.20 86.23,289.65 87.80,288.20 C89.37,286.75 90.68,285.42 91.80,283.50 C92.92,281.58 93.72,279.45 94.50,276.70 C95.28,273.95 95.73,269.35 96.50,267.00 C97.27,264.65 98.15,263.80 99.10,262.60 C100.05,261.40 101.32,260.38 102.20,259.80 C103.08,259.22 103.67,259.00 104.40,259.10 C105.13,259.20 105.95,259.52 106.60,260.40 C107.25,261.28 107.78,262.57 108.30,264.40 C108.82,266.23 109.25,268.92 109.70,271.40 C110.15,273.88 110.57,276.43 111.00,279.30 C111.43,282.17 111.47,286.03 112.30,288.60 C113.13,291.17 114.55,293.32 116.00,294.70 C117.45,296.08 117.50,296.42 121.00,296.90 C124.50,297.38 127.62,297.45 137.00,297.60 C146.38,297.75 170.58,297.77 177.30,297.80 L177.30,299.60 L45.50,299.60 Z" fill="rgb(222,119,136)" fill-opacity="0.7" clip-path="url(#cb2)"/>
<path d="M45.50,295.20 C45.82,295.38 45.73,296.12 47.40,296.30 C49.07,296.48 53.07,296.35 55.50,296.30 C57.93,296.25 59.77,296.12 62.00,296.00 C64.23,295.88 66.40,295.90 68.90,295.60 C71.40,295.30 74.75,294.77 77.00,294.20 C79.25,293.63 80.60,293.20 82.40,292.20 C84.20,291.20 86.23,289.65 87.80,288.20 C89.37,286.75 90.68,285.42 91.80,283.50 C92.92,281.58 93.72,279.45 94.50,276.70 C95.28,273.95 95.73,269.35 96.50,267.00 C97.27,264.65 98.15,263.80 99.10,262.60 C100.05,261.40 101.32,260.38 102.20,259.80 C103.08,259.22 103.67,259.00 104.40,259.10 C105.13,259.20 105.95,259.52 106.60,260.40 C107.25,261.28 107.78,262.57 108.30,264.40 C108.82,266.23 109.25,268.92 109.70,271.40 C110.15,273.88 110.57,276.43 111.00,279.30 C111.43,282.17 111.47,286.03 112.30,288.60 C113.13,291.17 114.55,293.32 116.00,294.70 C117.45,296.08 117.50,296.42 121.00,296.90 C124.50,297.38 127.62,297.45 137.00,297.60 C146.38,297.75 170.58,297.77 177.30,297.80" fill="none" stroke="#c8173a" stroke-width="1.15" stroke-linejoin="round"/>
<path d="M45.00,319.30 C53.13,319.28 84.88,319.42 93.80,319.20 C102.72,318.98 96.65,318.28 98.50,318.00 C100.35,317.72 103.22,317.88 104.90,317.50 C106.58,317.12 107.47,316.72 108.60,315.70 C109.73,314.68 110.67,312.63 111.70,311.40 C112.73,310.17 113.87,309.53 114.80,308.30 C115.73,307.07 116.38,305.95 117.30,304.00 C118.22,302.05 119.28,298.87 120.30,296.60 C121.32,294.33 122.37,292.47 123.40,290.40 C124.43,288.33 125.72,285.53 126.50,284.20 C127.28,282.87 127.58,282.40 128.10,282.40 C128.62,282.40 128.95,283.38 129.60,284.20 C130.25,285.02 131.18,286.27 132.00,287.30 C132.82,288.33 133.77,289.07 134.50,290.40 C135.23,291.73 135.58,293.15 136.40,295.30 C137.22,297.45 138.38,300.73 139.40,303.30 C140.42,305.87 141.37,308.63 142.50,310.70 C143.63,312.77 144.87,314.47 146.20,315.70 C147.53,316.93 148.20,317.53 150.50,318.10 C152.80,318.67 155.53,318.90 160.00,319.10 C164.47,319.30 174.42,319.27 177.30,319.30 L177.30,321.60 L45.00,321.60 Z" fill="rgb(119,155,185)" fill-opacity="0.7" clip-path="url(#cb3)"/>
<path d="M45.00,319.30 C53.13,319.28 84.88,319.42 93.80,319.20 C102.72,318.98 96.65,318.28 98.50,318.00 C100.35,317.72 103.22,317.88 104.90,317.50 C106.58,317.12 107.47,316.72 108.60,315.70 C109.73,314.68 110.67,312.63 111.70,311.40 C112.73,310.17 113.87,309.53 114.80,308.30 C115.73,307.07 116.38,305.95 117.30,304.00 C118.22,302.05 119.28,298.87 120.30,296.60 C121.32,294.33 122.37,292.47 123.40,290.40 C124.43,288.33 125.72,285.53 126.50,284.20 C127.28,282.87 127.58,282.40 128.10,282.40 C128.62,282.40 128.95,283.38 129.60,284.20 C130.25,285.02 131.18,286.27 132.00,287.30 C132.82,288.33 133.77,289.07 134.50,290.40 C135.23,291.73 135.58,293.15 136.40,295.30 C137.22,297.45 138.38,300.73 139.40,303.30 C140.42,305.87 141.37,308.63 142.50,310.70 C143.63,312.77 144.87,314.47 146.20,315.70 C147.53,316.93 148.20,317.53 150.50,318.10 C152.80,318.67 155.53,318.90 160.00,319.10 C164.47,319.30 174.42,319.27 177.30,319.30" fill="none" stroke="#1e5a96" stroke-width="1.15" stroke-linejoin="round"/>
<path d="M106.60,340.00 C107.45,339.95 110.13,340.17 111.70,339.70 C113.27,339.23 114.67,338.12 116.00,337.20 C117.33,336.28 118.57,335.53 119.70,334.20 C120.83,332.87 121.77,331.17 122.80,329.20 C123.83,327.23 124.98,324.65 125.90,322.40 C126.82,320.15 127.48,317.23 128.30,315.70 C129.12,314.17 130.07,314.43 130.80,313.20 C131.53,311.97 132.08,309.98 132.70,308.30 C133.32,306.62 134.00,304.13 134.50,303.10 C135.00,302.07 135.28,302.07 135.70,302.10 C136.12,302.13 136.38,302.07 137.00,303.30 C137.62,304.53 138.48,307.65 139.40,309.50 C140.32,311.35 141.57,312.35 142.50,314.40 C143.43,316.45 144.07,319.33 145.00,321.80 C145.93,324.27 147.08,326.83 148.10,329.20 C149.12,331.57 150.08,334.25 151.10,336.00 C152.12,337.75 153.38,339.03 154.20,339.70 C155.02,340.37 155.70,339.95 156.00,340.00 L156.00,343.00 L106.60,343.00 Z" fill="rgb(145,214,154)" fill-opacity="0.7" clip-path="url(#cb4)"/>
<path d="M106.60,340.00 C107.45,339.95 110.13,340.17 111.70,339.70 C113.27,339.23 114.67,338.12 116.00,337.20 C117.33,336.28 118.57,335.53 119.70,334.20 C120.83,332.87 121.77,331.17 122.80,329.20 C123.83,327.23 124.98,324.65 125.90,322.40 C126.82,320.15 127.48,317.23 128.30,315.70 C129.12,314.17 130.07,314.43 130.80,313.20 C131.53,311.97 132.08,309.98 132.70,308.30 C133.32,306.62 134.00,304.13 134.50,303.10 C135.00,302.07 135.28,302.07 135.70,302.10 C136.12,302.13 136.38,302.07 137.00,303.30 C137.62,304.53 138.48,307.65 139.40,309.50 C140.32,311.35 141.57,312.35 142.50,314.40 C143.43,316.45 144.07,319.33 145.00,321.80 C145.93,324.27 147.08,326.83 148.10,329.20 C149.12,331.57 150.08,334.25 151.10,336.00 C152.12,337.75 153.38,339.03 154.20,339.70 C155.02,340.37 155.70,339.95 156.00,340.00" fill="none" stroke="#3db54a" stroke-width="1.15" stroke-linejoin="round"/>
<line x1="45.60" y1="232.40" x2="45.60" y2="271.60" stroke="#4a1f5a" stroke-width="1.1" />
<line x1="45.50" y1="271.70" x2="45.50" y2="295.40" stroke="#c8173a" stroke-width="1.1" />
<path d="M44.5,340.3 L44.5,206.6 L177.3,206.6 L177.3,340.3" fill="none" stroke="#111" stroke-width="1.1"/>
<line x1="44.00" y1="340.30" x2="177.80" y2="340.30" stroke="#111" stroke-width="1.3" />
<line x1="46.30" y1="340.30" x2="46.30" y2="342.50" stroke="#222" stroke-width="0.8" />
<line x1="48.20" y1="340.30" x2="48.20" y2="342.50" stroke="#222" stroke-width="0.8" />
<line x1="50.20" y1="340.30" x2="50.20" y2="342.50" stroke="#222" stroke-width="0.8" />
<line x1="52.00" y1="340.30" x2="52.00" y2="342.50" stroke="#222" stroke-width="0.8" />
<line x1="54.00" y1="340.30" x2="54.00" y2="342.50" stroke="#222" stroke-width="0.8" />
<line x1="61.00" y1="340.30" x2="61.00" y2="342.50" stroke="#222" stroke-width="0.8" />
<line x1="63.20" y1="340.30" x2="63.20" y2="342.50" stroke="#222" stroke-width="0.8" />
<line x1="66.30" y1="340.30" x2="66.30" y2="342.50" stroke="#222" stroke-width="0.8" />
<line x1="68.60" y1="340.30" x2="68.60" y2="342.50" stroke="#222" stroke-width="0.8" />
<line x1="71.00" y1="340.30" x2="71.00" y2="342.50" stroke="#222" stroke-width="0.8" />
<line x1="58.80" y1="340.30" x2="58.80" y2="343.90" stroke="#111" stroke-width="2.0" />
<line x1="73.00" y1="340.30" x2="73.00" y2="343.30" stroke="#222" stroke-width="0.9" />
<line x1="82.78" y1="340.30" x2="82.78" y2="342.30" stroke="#222" stroke-width="0.75" />
<line x1="88.51" y1="340.30" x2="88.51" y2="342.30" stroke="#222" stroke-width="0.75" />
<line x1="92.57" y1="340.30" x2="92.57" y2="342.30" stroke="#222" stroke-width="0.75" />
<line x1="95.72" y1="340.30" x2="95.72" y2="342.30" stroke="#222" stroke-width="0.75" />
<line x1="98.29" y1="340.30" x2="98.29" y2="342.30" stroke="#222" stroke-width="0.75" />
<line x1="100.47" y1="340.30" x2="100.47" y2="342.30" stroke="#222" stroke-width="0.75" />
<line x1="102.35" y1="340.30" x2="102.35" y2="342.30" stroke="#222" stroke-width="0.75" />
<line x1="104.01" y1="340.30" x2="104.01" y2="342.30" stroke="#222" stroke-width="0.75" />
<line x1="105.50" y1="340.30" x2="105.50" y2="343.30" stroke="#222" stroke-width="0.9" />
<line x1="114.44" y1="340.30" x2="114.44" y2="342.30" stroke="#222" stroke-width="0.75" />
<line x1="119.67" y1="340.30" x2="119.67" y2="342.30" stroke="#222" stroke-width="0.75" />
<line x1="123.38" y1="340.30" x2="123.38" y2="342.30" stroke="#222" stroke-width="0.75" />
<line x1="126.26" y1="340.30" x2="126.26" y2="342.30" stroke="#222" stroke-width="0.75" />
<line x1="128.61" y1="340.30" x2="128.61" y2="342.30" stroke="#222" stroke-width="0.75" />
<line x1="130.60" y1="340.30" x2="130.60" y2="342.30" stroke="#222" stroke-width="0.75" />
<line x1="132.32" y1="340.30" x2="132.32" y2="342.30" stroke="#222" stroke-width="0.75" />
<line x1="133.84" y1="340.30" x2="133.84" y2="342.30" stroke="#222" stroke-width="0.75" />
<line x1="135.20" y1="340.30" x2="135.20" y2="343.30" stroke="#222" stroke-width="0.9" />
<line x1="144.14" y1="340.30" x2="144.14" y2="342.30" stroke="#222" stroke-width="0.75" />
<line x1="149.37" y1="340.30" x2="149.37" y2="342.30" stroke="#222" stroke-width="0.75" />
<line x1="153.08" y1="340.30" x2="153.08" y2="342.30" stroke="#222" stroke-width="0.75" />
<line x1="155.96" y1="340.30" x2="155.96" y2="342.30" stroke="#222" stroke-width="0.75" />
<line x1="158.31" y1="340.30" x2="158.31" y2="342.30" stroke="#222" stroke-width="0.75" />
<line x1="160.30" y1="340.30" x2="160.30" y2="342.30" stroke="#222" stroke-width="0.75" />
<line x1="162.02" y1="340.30" x2="162.02" y2="342.30" stroke="#222" stroke-width="0.75" />
<line x1="163.54" y1="340.30" x2="163.54" y2="342.30" stroke="#222" stroke-width="0.75" />
<line x1="164.90" y1="340.30" x2="164.90" y2="343.30" stroke="#222" stroke-width="0.9" />
<line x1="173.84" y1="340.30" x2="173.84" y2="342.30" stroke="#222" stroke-width="0.75" />
<text transform="translate(58.80,353.20)" font-size="6.8" text-anchor="middle" font-weight="normal" fill="#222" stroke="#222" stroke-width="0.22">0</text>
<text x="101.2" y="353.2" font-size="6.6" fill="#222">10<tspan dy="-2.8" font-size="4.6">3</tspan></text>
<text x="131.0" y="353.2" font-size="6.6" fill="#222">10<tspan dy="-2.8" font-size="4.6">4</tspan></text>
<text x="161.0" y="353.2" font-size="6.6" fill="#222">10<tspan dy="-2.8" font-size="4.6">5</tspan></text>
<text transform="translate(110.50,365.40) scale(0.69,1)" font-size="8.7" text-anchor="middle" font-weight="normal" fill="#222" stroke="#222" stroke-width="0.4">CD38</text>
<path d="M185.2,251.5 C188.60,241.60 190.87,233.50 193.3,233.5 C195.58,233.50 197.71,241.69 200.9,251.7" fill="none" stroke="#f7941d" stroke-width="1.35" stroke-linecap="round"/>
<text transform="translate(228.20,247.00) scale(0.93,1)" font-size="7.5" text-anchor="middle" font-weight="normal" fill="#222" stroke="#222" stroke-width="0.1">Unstained</text>
<path d="M185.2,276.5 C188.98,265.44 190.15,256.40 194.2,256.4 C197.53,256.40 198.49,265.62 201.6,276.9" fill="none" stroke="#5b276a" stroke-width="1.35" stroke-linecap="round"/>
<text transform="translate(228.20,272.70) scale(0.93,1)" font-size="7.5" text-anchor="middle" font-weight="normal" fill="#222" stroke="#222" stroke-width="0.1">DMSO</text>
<path d="M184.9,297.2 C188.51,288.07 191.35,280.60 193.5,280.6 C195.72,280.60 198.66,288.25 202.4,297.6" fill="none" stroke="#c8173a" stroke-width="1.35" stroke-linecap="round"/>
<text transform="translate(228.20,293.80) scale(0.93,1)" font-size="7.5" text-anchor="middle" font-weight="normal" fill="#222" stroke="#222" stroke-width="0.1">SIA</text>
<path d="M184.4,318.7 C188.47,308.75 191.19,300.60 194.1,300.6 C196.86,300.60 199.44,309.02 203.3,319.3" fill="none" stroke="#1e5a96" stroke-width="1.35" stroke-linecap="round"/>
<text transform="translate(228.20,314.20) scale(0.93,1)" font-size="7.5" text-anchor="middle" font-weight="normal" fill="#222" stroke="#222" stroke-width="0.1">ATRA</text>
<path d="M184.6,342.2 C188.76,332.36 192.03,324.30 194.5,324.3 C196.60,324.30 199.37,332.94 202.9,343.5" fill="none" stroke="#3db54a" stroke-width="1.35" stroke-linecap="round"/>
<text transform="translate(228.20,338.20) scale(0.93,1)" font-size="7.5" text-anchor="middle" font-weight="normal" fill="#222" stroke="#222" stroke-width="0.1">ATRA + SIA</text>
<rect x="0.5" y="0.5" width="519" height="567" fill="none" stroke="#000" stroke-width="1.1"/>
</svg>
</body></html>
